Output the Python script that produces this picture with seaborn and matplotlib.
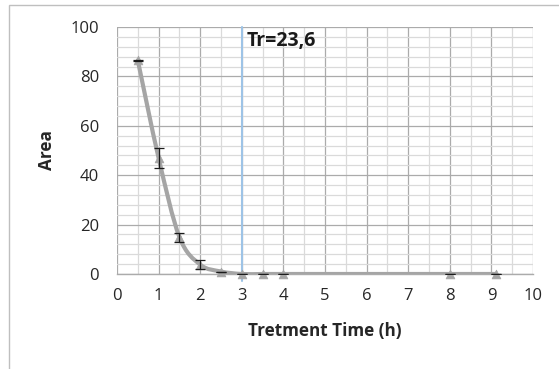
import numpy as np
import pandas as pd
import matplotlib
matplotlib.use("Agg")
import matplotlib.pyplot as plt
from matplotlib.path import Path
from matplotlib.patches import PathPatch, Rectangle
from matplotlib.ticker import MultipleLocator
import seaborn as sns

time_h = [0.5, 1.0, 1.5, 2.0, 2.5, 3.0, 3.5, 4.0, 8.0, 9.1]
area = [86.5, 47.0, 15.0, 3.8, 1.0, 0.0, 0.0, 0.0, 0.0, 0.0]
err_up = [0.3, 4.0, 1.5, 1.7, 0.0, 0.0, 0.0, 0.0, 0.0, 0.0]
err_lo = [0.3, 4.0, 2.0, 1.8, 0.0, 0.0, 0.0, 0.0, 0.0, 0.0]
tr_time = 3.0
tr_label = "Tr=23,6"
x_label = "Tretment Time (h)"
y_label = "Area"

df = pd.DataFrame({"time": time_h, "area": area})

sns.set_style("white")
plt.rcParams['font.family'] = ['Open Sans', 'DejaVu Sans']

fig = plt.figure(figsize=(5.59, 3.69), dpi=100)
ax = fig.add_axes([117/559, 1 - 274/369, 416/559, 247/369])

ax.set_xlim(0, 10)
ax.set_ylim(0, 100)
ax.xaxis.set_major_locator(MultipleLocator(1))
ax.xaxis.set_minor_locator(MultipleLocator(0.5))
ax.yaxis.set_major_locator(MultipleLocator(20))
ax.yaxis.set_minor_locator(MultipleLocator(4))
ax.grid(which="major", color="#ABABAB", linewidth=0.9, zorder=0)
ax.grid(which="minor", color="#DADADA", linewidth=0.9, zorder=0)
ax.set_axisbelow(True)
for s in ["top", "right", "left"]:
    ax.spines[s].set_visible(False)
ax.spines["bottom"].set_color("#ABABAB")
ax.spines["bottom"].set_linewidth(1.0)
ax.tick_params(axis="both", which="major", direction="out", length=5, width=0.9,
               color="#ABABAB", labelsize=12, labelcolor="#262626")
ax.tick_params(axis="x", which="major", pad=5)
ax.tick_params(axis="y", which="major", pad=8)
ax.tick_params(axis="both", which="minor", length=0)

# smoothed line (Catmull-Rom style Bezier through the data points)
x = np.array(time_h); y = np.array(area)
verts = [(x[0], y[0])]
codes = [Path.MOVETO]
t = 1/6
for i in range(len(x) - 1):
    p0 = (x[i-1], y[i-1]) if i > 0 else (x[i], y[i])
    p1 = (x[i], y[i]); p2 = (x[i+1], y[i+1])
    p3 = (x[i+2], y[i+2]) if i + 2 < len(x) else p2
    c1 = (p1[0] + (p2[0]-p0[0])*t, p1[1] + (p2[1]-p0[1])*t)
    c2 = (p2[0] - (p3[0]-p1[0])*t, p2[1] - (p3[1]-p1[1])*t)
    verts += [c1, c2, p2]
    codes += [Path.CURVE4]*3
ax.add_patch(PathPatch(Path(verts, codes), facecolor="none", edgecolor="#A5A5A5",
                       linewidth=3, zorder=3, capstyle="round", joinstyle="round"))

sns.scatterplot(data=df, x="time", y="area", ax=ax, marker="^", s=40,
                color="#A5A5A5", edgecolor="#A5A5A5", zorder=4, clip_on=False, legend=False)

ax.errorbar(time_h, area, yerr=[err_lo, err_up], fmt="none", ecolor="#1a1a1a",
            elinewidth=0.9, capsize=3.6, capthick=0.9, zorder=5)

ax.axvline(tr_time, color="#9DC3E6", linewidth=1.5, zorder=2, ymin=-0.03, ymax=1.0, clip_on=False)
ax.text(tr_time + 0.12, 98.5, tr_label, fontsize=14, fontweight="bold", color="#1a1a1a",
        va="top", ha="left", zorder=6)

ax.set_xlabel(x_label, fontsize=12.3, fontweight="bold", color="#262626")
ax.set_ylabel(y_label, fontsize=12.3, fontweight="bold", color="#262626")
ax.xaxis.set_label_coords(0.5, -0.231)
ax.yaxis.set_label_coords(-0.168, 0.5)
ax.xaxis.label.set_va("center")
ax.yaxis.label.set_va("center")

fig.patches.append(Rectangle((9/559, -0.01), 1.5, 1 - 5/369 + 0.01, transform=fig.transFigure,
                             fill=False, edgecolor="#BFBFBF", linewidth=1.0))

fig.savefig("out.png", dpi=100)
